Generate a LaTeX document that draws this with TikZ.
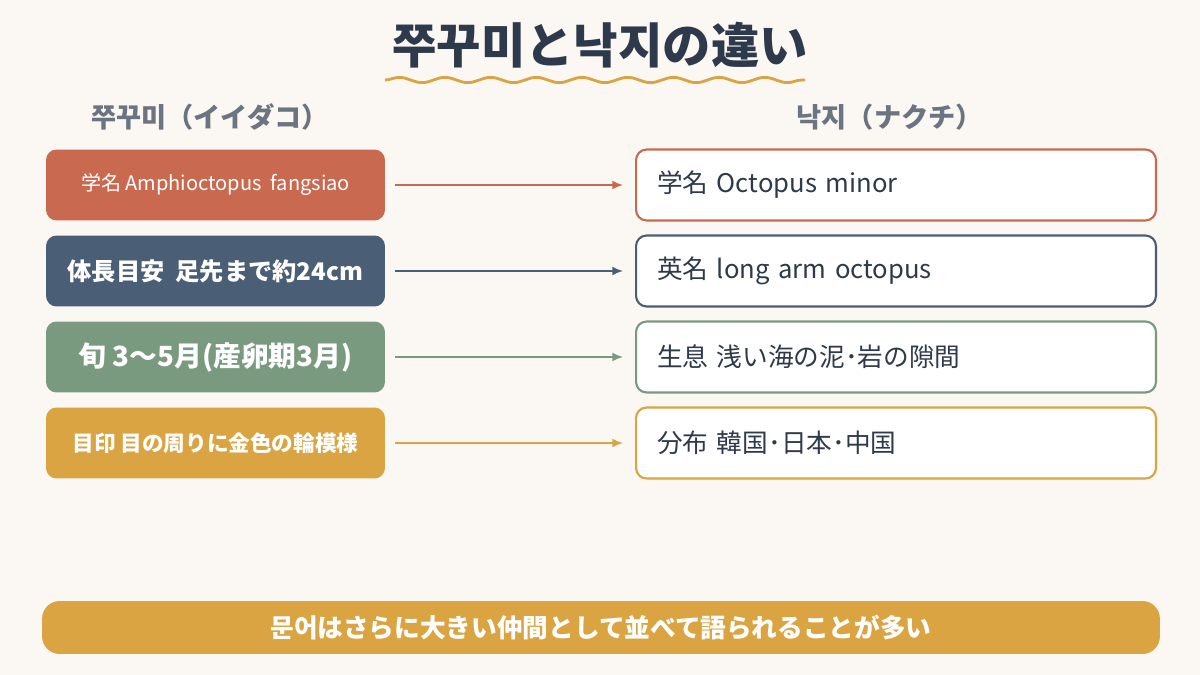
\documentclass[tikz,border=0pt]{standalone}
\usepackage{fontspec}
\setmainfont{Noto Sans CJK JP}
\usepackage{tikz}
\usetikzlibrary{calc}
\usetikzlibrary{arrows.meta}
\usetikzlibrary{positioning}
\usetikzlibrary{decorations.pathmorphing}
\definecolor{bg}{HTML}{FBF7F2}
\definecolor{ink}{HTML}{2E3A4B}
\definecolor{gray}{HTML}{6B7480}
\definecolor{red}{HTML}{C96A50}
\definecolor{navy}{HTML}{4A5E75}
\definecolor{sage}{HTML}{7A9A80}
\definecolor{gold}{HTML}{D9A441}
\tikzset{lbox/.style={rectangle,rounded corners=6pt,minimum width=6.78cm,minimum height=1.42cm,text=white,font=\bfseries}}
\tikzset{rbox/.style={rectangle,rounded corners=6pt,draw,line width=1.2pt,fill=white,minimum width=10.4cm,minimum height=1.42cm,text=ink,text width=9.56cm,align=left,font=\fontsize{14.6}{17}\selectfont}}
\tikzset{link/.style={-{Latex[length=6pt,width=5pt]},line width=1pt}}
\begin{document}
\begin{tikzpicture}[x=0.02cm,y=-0.02cm]
    \fill[bg] (0,0) rectangle (1200,675);
    \node[font=\bfseries\fontsize{27.5}{32}\selectfont, text=ink] (title) at (600,45) {쭈꾸미と낙지の違い};
    \draw[gold, line width=1.6pt, decoration={snake,amplitude=1.5pt,segment length=26pt}, decorate] (385,80) -- (805,80);
    \node[font=\bfseries\fontsize{15.5}{18}\selectfont, text=gray] (hL) at (210,117) {쭈꾸미（イイダコ）};
    \node[font=\bfseries\fontsize{15.5}{18}\selectfont, text=gray] (hR) at (890,117) {낙지（ナクチ）};
    % left column
    \node[lbox, fill=red, font=\fontsize{11.4}{13}\selectfont] (L1) at (215.5,185) {学名 Amphioctopus\ \ fangsiao};
    \node[lbox, fill=navy, font=\bfseries\fontsize{13.8}{16}\selectfont] (L2) at (215.5,271) {体長目安\ \ 足先まで約24cm};
    \node[lbox, fill=sage, font=\bfseries\fontsize{15.8}{18}\selectfont] (L3) at (215.5,357) {旬 3〜5月(産卵期3月)};
    \node[lbox, fill=gold, font=\bfseries\fontsize{12.3}{14}\selectfont] (L4) at (215.5,443) {目印 目の周りに金色の輪模様};
    % right column
    \node[rbox, draw=red] (R1) at (896,185) {学名 Octopus minor};
    \node[rbox, draw=navy] (R2) at (896,271) {英名 long arm octopus};
    \node[rbox, draw=sage] (R3) at (896,357) {生息 浅い海の泥･岩の隙間};
    \node[rbox, draw=gold] (R4) at (896,443) {分布 韓国･日本･中国};
    \draw[link, red] ($(L1.east)+(10,0)$) -- ($(R1.west)+(-12,0)$);
    \draw[link, navy] ($(L2.east)+(10,0)$) -- ($(R2.west)+(-12,0)$);
    \draw[link, sage] ($(L3.east)+(10,0)$) -- ($(R3.west)+(-12,0)$);
    \draw[link, gold] ($(L4.east)+(10,0)$) -- ($(R4.west)+(-12,0)$);
    \node[rectangle, rounded corners=10pt, fill=gold, minimum width=22.36cm, minimum height=1.06cm, text=white, font=\bfseries\fontsize{14.6}{17}\selectfont] (note) at (601,627.5) {문어はさらに大きい仲間として並べて語られることが多い};
\end{tikzpicture}
\end{document}
